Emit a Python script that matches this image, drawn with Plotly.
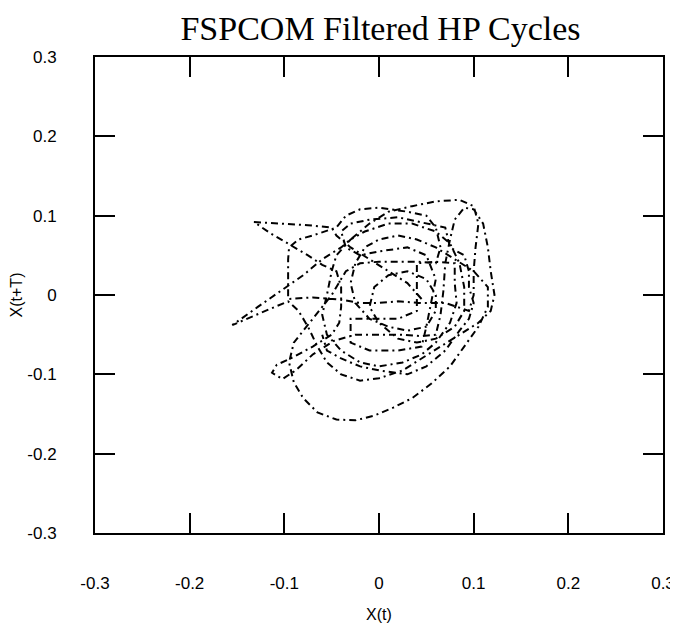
import plotly.graph_objects as go

# Phase-plot trajectory: X(t) vs X(t+T)
x_t = [
    0.045, 0.03, 0.01, -0.01, -0.03, -0.045, -0.05,
    -0.075, -0.10, -0.132,
    -0.115, -0.095, -0.075, -0.06, -0.045,
    -0.04, -0.04, -0.042, -0.05,
    -0.07, -0.09, -0.108, -0.113, -0.102, -0.088, -0.07, -0.048, -0.025, 0.0,
    0.025, 0.045, 0.06,
    0.065, 0.068, 0.07, 0.075, 0.08, 0.09, 0.10,
    0.11, 0.115, 0.118, 0.122, 0.118, 0.105,
    0.085, 0.065, 0.045, 0.025, 0.0, -0.02, -0.04, -0.055, -0.065, -0.075, -0.085, -0.096,
    -0.12, -0.155,
    -0.128, -0.10, -0.08, -0.06, -0.04, -0.025, -0.01, 0.01, 0.035, 0.06, 0.085, 0.10,
    0.105, 0.102, 0.10, 0.10, 0.095,
    0.07, 0.045, 0.02, 0.0, -0.02, -0.04,
    -0.07, -0.096, -0.096, -0.096, -0.095,
    -0.085, -0.07, -0.045, -0.035, -0.02, 0.0, 0.03, 0.05, 0.06, 0.065, 0.06,
    0.04, 0.02, 0.0, -0.02, -0.035,
    -0.05, -0.07, -0.09, -0.095, -0.09, -0.08, -0.065, -0.045, -0.025, -0.005, 0.015, 0.035,
    0.055, 0.075, 0.09, 0.105, 0.115, 0.115,
    0.10, 0.08, 0.06, 0.04, 0.02, 0.0, -0.015, -0.025, -0.03, -0.025, -0.01, 0.01, 0.03, 0.05,
    0.06, 0.06, 0.05, 0.03, 0.01, -0.005, -0.01, 0.0, 0.02, 0.04, 0.06, 0.08, 0.09, 0.09, 0.085,
    0.075, 0.06, 0.035, 0.01, -0.015, -0.03, -0.045, -0.05, -0.055, -0.06, -0.055, -0.04, -0.02,
    0.0, 0.025, 0.045, 0.06, 0.075, 0.082, 0.08,
    0.08, 0.06, 0.04, 0.04, 0.04, 0.02, -0.01, -0.03, -0.03, -0.01, 0.02, 0.045,
    0.05, 0.055, 0.06, 0.05, 0.03, 0.0, -0.02, -0.035, -0.04, -0.03, -0.01, 0.02, 0.05, 0.07,
    0.075, 0.09, 0.095, 0.095, 0.10, 0.095, 0.085, 0.07, 0.05, 0.03, 0.0, -0.02, -0.04,
    -0.055, -0.06,
]
x_t_plus_T = [
    -0.005, 0.015, 0.03, 0.045, 0.06, 0.075, 0.085,
    0.088, 0.09, 0.092,
    0.078, 0.064, 0.05, 0.038, 0.03,
    0.01, -0.015, -0.035, -0.05,
    -0.065, -0.078, -0.088, -0.098, -0.106, -0.095, -0.075, -0.058, -0.05, -0.05,
    -0.05, -0.052, -0.05,
    -0.025, 0.005, 0.04, 0.07, 0.095, 0.11, 0.108,
    0.09, 0.06, 0.03, 0.0, -0.02, -0.035,
    -0.05, -0.065, -0.08, -0.095, -0.105, -0.108, -0.10, -0.085, -0.065, -0.04, -0.02, -0.008,
    -0.02, -0.038,
    -0.015, 0.008, 0.025, 0.045, 0.06, 0.075, 0.09, 0.105, 0.112, 0.118, 0.12, 0.112,
    0.09, 0.06, 0.03, 0.0, -0.02,
    -0.01, -0.01, -0.008, -0.01, -0.01, -0.006,
    -0.003, -0.005, 0.02, 0.045, 0.06,
    0.07, 0.075, 0.085, 0.10, 0.108, 0.11, 0.105, 0.10, 0.085, 0.06, 0.04,
    0.042, 0.042, 0.042, 0.04, 0.03,
    0.0, -0.03, -0.06, -0.085, -0.11, -0.13, -0.148, -0.157, -0.158, -0.152, -0.142, -0.13,
    -0.112, -0.09, -0.065, -0.04, -0.015, 0.01,
    0.03, 0.045, 0.06, 0.07, 0.075, 0.07, 0.06, 0.04, 0.015, -0.01, -0.03, -0.04, -0.045, -0.04,
    -0.02, 0.0, 0.02, 0.03, 0.025, 0.01, -0.015, -0.035, -0.055, -0.06, -0.055, -0.04, -0.02, 0.01, 0.04,
    0.065, 0.08, 0.09, 0.09, 0.08, 0.07, 0.05, 0.03, 0.0, -0.025, -0.05, -0.07, -0.085,
    -0.09, -0.085, -0.075, -0.06, -0.035, -0.01, 0.015,
    0.04, 0.042, 0.04, 0.01, -0.02, -0.03, -0.03, -0.03, -0.06, -0.07, -0.07, -0.065,
    -0.04, -0.01, 0.02, 0.05, 0.06, 0.055, 0.05, 0.06, 0.08, 0.09, 0.095, 0.098, 0.09, 0.085,
    0.06, 0.05, 0.03, 0.01, -0.01, -0.03, -0.045, -0.07, -0.09, -0.10, -0.095, -0.09, -0.08,
    -0.07, -0.05,
]

tick_vals = [-0.3, -0.2, -0.1, 0, 0.1, 0.2, 0.3]
tick_text = ["-0.3", "-0.2", "-0.1", "0", "0.1", "0.2", "0.3"]

fig = go.Figure()
fig.add_trace(go.Scatter(
    x=x_t, y=x_t_plus_T, mode="lines",
    line=dict(color="black", width=2, dash="7px,4px,2px,4px"),
    showlegend=False,
))

axis_common = dict(
    range=[-0.3, 0.3], tickvals=tick_vals, ticktext=tick_text,
    showgrid=False, zeroline=False, automargin=False,
    showline=True, linecolor="black", linewidth=2, mirror="ticks",
    ticks="inside", ticklen=20, tickwidth=2, tickcolor="black",
    tickfont=dict(family="Liberation Sans, Arial, sans-serif", size=17, color="black"),
)

# page body adds an 8px margin, so the figure is sized to fit the 678x631 window
fig.update_layout(
    width=670, height=615,
    margin=dict(l=87, r=15, t=49, b=90),
    paper_bgcolor="white", plot_bgcolor="white",
    title=dict(
        text="FSPCOM Filtered HP Cycles",
        font=dict(family="Liberation Serif, Times New Roman, serif", size=34, color="black"),
        x=0.556, xanchor="center", y=0.968, yanchor="middle",
    ),
    xaxis=dict(axis_common, ticklabelstandoff=34,
               title=dict(text="X(t)", standoff=18,
                          font=dict(family="Liberation Sans, Arial, sans-serif", size=16, color="black"))),
    yaxis=dict(axis_common, ticklabelstandoff=33,
               title=dict(text="X(t+T)", standoff=1,
                          font=dict(family="Liberation Sans, Arial, sans-serif", size=16, color="black"))),
)

fig.write_html("out.html")
